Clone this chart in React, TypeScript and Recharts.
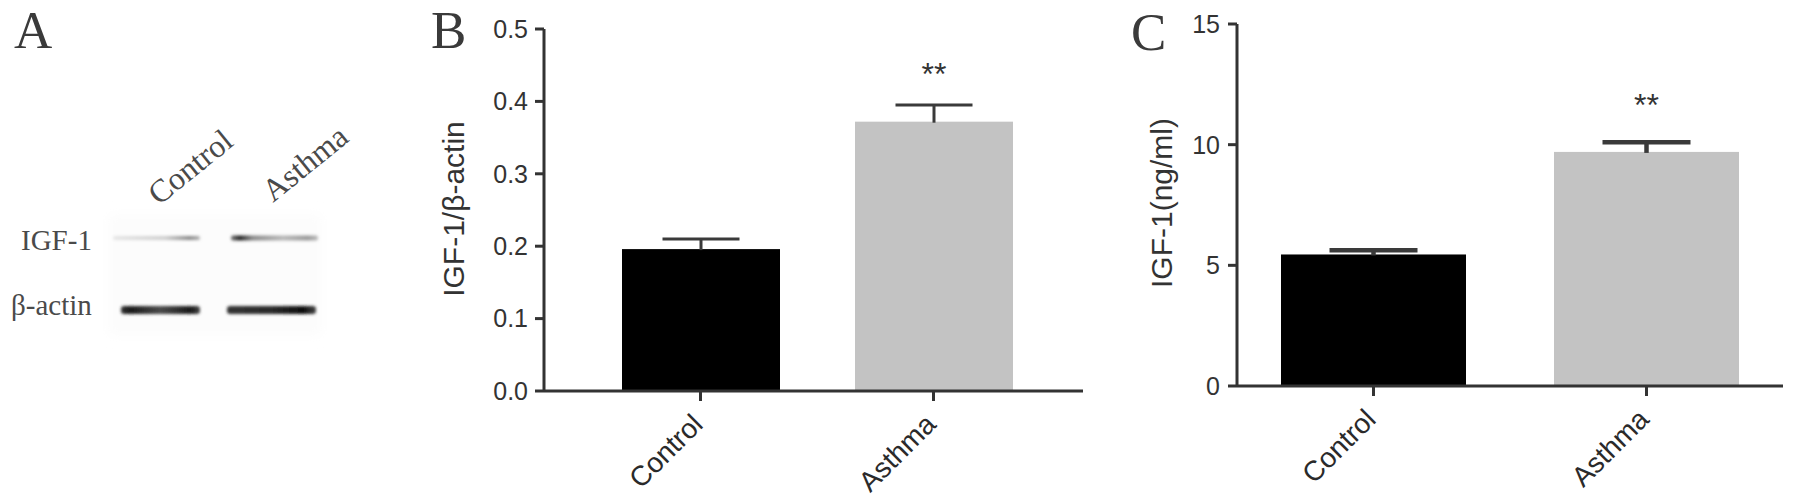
import React from "react";
import { BarChart, Bar, XAxis, YAxis } from "recharts";

// values (mean, upper SEM)
const groups = ["Control", "Asthma"];
const ratioMean = [0.196, 0.372];
const ratioSem = [0.014, 0.023];
const serumMean = [5.45, 9.7];
const serumSem = [0.17, 0.4];
const stars = ["", "**"];
const ratioTicks = [0, 0.1, 0.2, 0.3, 0.4, 0.5];
const serumTicks = [0, 5, 10, 15];
const blotRows = ["IGF-1", "β-actin"];

const barColors = ["#000000", "#c3c3c3"];
const ink = "#333333";
const whisker = "#3a3a3a";
const sans = "'Liberation Sans', Arial, sans-serif";
const serif = "'Liberation Serif', 'Times New Roman', serif";

const ratioData = groups.map((group, i) => ({
  group,
  mean: ratioMean[i],
  sem: ratioSem[i],
  star: stars[i],
}));
const serumData = groups.map((group, i) => ({
  group,
  mean: serumMean[i],
  sem: serumSem[i],
  star: stars[i],
}));

// bar + upper error whisker + significance mark, whisker length taken from the bar's own px/unit
function makeShape(cap: number, sw: number, starGap: number) {
  return (props: any) => {
    const { x, y, width, height, payload } = props;
    const perUnit = payload.mean ? height / payload.mean : 0;
    const top = y - payload.sem * perUnit;
    const cx = x + width / 2;
    const color = barColors[groups.indexOf(payload.group)] ?? "#000";
    return (
      <g>
        <rect x={x} y={y} width={width} height={height} fill={color} />
        <line x1={cx} x2={cx} y1={y + 1} y2={top} stroke={whisker} strokeWidth={sw} />
        <line x1={cx - cap} x2={cx + cap} y1={top} y2={top} stroke={whisker} strokeWidth={sw} />
        {payload.star ? (
          <text
            x={cx}
            y={top - starGap}
            textAnchor="middle"
            fontSize={32}
            fontFamily={sans}
            fill={ink}
          >
            {payload.star}
          </text>
        ) : null}
      </g>
    );
  };
}

const xTick = (props: any) => {
  const { x, y, payload } = props;
  const px = x + 4;
  const py = y + 25;
  return (
    <text
      x={px}
      y={py}
      transform={`rotate(-45 ${px} ${py})`}
      textAnchor="end"
      fontSize={28}
      fontFamily={sans}
      fill="#2a2a2a"
    >
      {payload.value}
    </text>
  );
};

const yTitle = (text: string, x: number, y: number) => () =>
  (
    <text
      x={x}
      y={y}
      transform={`rotate(-90 ${x} ${y})`}
      textAnchor="middle"
      dominantBaseline="central"
      fontSize={30}
      fontFamily={sans}
      fill={ink}
    >
      {text}
    </text>
  );

function BlotPanel() {
  const laneX = [[113, 200], [231, 318]];
  const rowY = [238, 310];
  return (
    <svg
      width={1795}
      height={503}
      style={{ position: "absolute", left: 0, top: 0 }}
    >
      <defs>
        <filter id="soft" x="-20%" y="-200%" width="140%" height="500%">
          <feGaussianBlur stdDeviation="1.8" />
        </filter>
        <filter id="haze" x="-10%" y="-10%" width="120%" height="120%">
          <feGaussianBlur stdDeviation="6" />
        </filter>
        <linearGradient id="igfC" x1="0" x2="1" y1="0" y2="0">
          <stop offset="0" stopColor="#e6e6e6" />
          <stop offset="0.6" stopColor="#cfcfcf" />
          <stop offset="0.88" stopColor="#8a8a8a" />
          <stop offset="1" stopColor="#b0b0b0" />
        </linearGradient>
        <linearGradient id="igfA" x1="0" x2="1" y1="0" y2="0">
          <stop offset="0" stopColor="#777" />
          <stop offset="0.1" stopColor="#222" />
          <stop offset="0.25" stopColor="#8a8a8a" />
          <stop offset="0.6" stopColor="#b8b8b8" />
          <stop offset="0.88" stopColor="#999" />
          <stop offset="1" stopColor="#bbb" />
        </linearGradient>
        <linearGradient id="actC" x1="0" x2="1" y1="0" y2="0">
          <stop offset="0" stopColor="#333" />
          <stop offset="0.12" stopColor="#1a1a1a" />
          <stop offset="0.5" stopColor="#4a4a4a" />
          <stop offset="0.88" stopColor="#1a1a1a" />
          <stop offset="1" stopColor="#444" />
        </linearGradient>
        <linearGradient id="actA" x1="0" x2="1" y1="0" y2="0">
          <stop offset="0" stopColor="#333" />
          <stop offset="0.5" stopColor="#2a2a2a" />
          <stop offset="0.85" stopColor="#0d0d0d" />
          <stop offset="1" stopColor="#444" />
        </linearGradient>
      </defs>
      <rect x={0} y={0} width={1795} height={503} fill="#ffffff" />
      <text x={14} y={48} fontSize={53} fontFamily={serif} fill="#3a3a3a">A</text>
      <text x={431} y={48} fontSize={53} fontFamily={serif} fill="#3a3a3a">B</text>
      <text x={1131} y={50} fontSize={53} fontFamily={serif} fill="#3a3a3a">C</text>

      <rect x={108} y={214} width={214} height={122} fill="#fcfcfc" filter="url(#haze)" />

      {groups.map((g, i) => {
        const sx = [159, 273][i];
        const sy = [206, 203][i];
        return (
          <text
            key={g}
            x={sx}
            y={sy}
            transform={`rotate(-39 ${sx} ${sy})`}
            fontSize={32}
            fontFamily={serif}
            fill="#4a4a4a"
          >
            {g}
          </text>
        );
      })}
      {blotRows.map((r, i) => (
        <text
          key={r}
          x={[21, 11][i]}
          y={[250, 315][i]}
          fontSize={29}
          fontFamily={serif}
          fill="#4a4a4a"
        >
          {r}
        </text>
      ))}
      <rect x={laneX[0][0]} y={rowY[0] - 2} width={laneX[0][1] - laneX[0][0]} height={4} rx={2} fill="url(#igfC)" filter="url(#soft)" />
      <rect x={laneX[1][0]} y={rowY[0] - 2.5} width={laneX[1][1] - laneX[1][0]} height={5} rx={2} fill="url(#igfA)" filter="url(#soft)" />
      <rect x={laneX[0][0] + 8} y={rowY[1] - 4} width={laneX[0][1] - laneX[0][0] - 8} height={8} rx={3} fill="url(#actC)" filter="url(#soft)" />
      <rect x={laneX[1][0] - 4} y={rowY[1] - 4} width={laneX[1][1] - laneX[1][0] + 2} height={8} rx={3} fill="url(#actA)" filter="url(#soft)" />
    </svg>
  );
}

export default function App() {
  const axisStroke = { stroke: ink, strokeWidth: 3 };
  return (
    <div
      style={{
        position: "absolute",
        left: 0,
        top: 0,
        width: 1795,
        height: 503,
        background: "#fff",
        overflow: "hidden",
      }}
    >
      <BlotPanel />

      <div style={{ position: "absolute", left: 380, top: 0 }}>
        <BarChart
          width={720}
          height={503}
          data={ratioData}
          margin={{ top: 29, right: 17, left: 0, bottom: 0 }}
        >
          <XAxis
            dataKey="group"
            height={112}
            interval={0}
            padding={{ left: 40, right: 33 }}
            tickSize={10}
            tickMargin={0}
            axisLine={axisStroke}
            tickLine={axisStroke}
            tick={xTick}
          />
          <YAxis
            width={164}
            domain={[0, 0.5]}
            ticks={ratioTicks}
            tickFormatter={(v: number) => v.toFixed(1)}
            tickSize={9}
            tickMargin={7}
            axisLine={axisStroke}
            tickLine={axisStroke}
            tick={{ fill: ink, fontSize: 25, fontFamily: sans }}
            label={{ content: yTitle("IGF-1/β-actin", 73, 209) }}
          />
          <Bar
            dataKey="mean"
            barSize={158}
            isAnimationActive={false}
            shape={makeShape(38.5, 3, 20)}
          />
        </BarChart>
      </div>

      <div style={{ position: "absolute", left: 1100, top: 0 }}>
        <BarChart
          width={695}
          height={503}
          data={serumData}
          margin={{ top: 24, right: 12, left: 0, bottom: 0 }}
        >
          <XAxis
            dataKey="group"
            height={117}
            interval={0}
            tickSize={10}
            tickMargin={0}
            axisLine={axisStroke}
            tickLine={axisStroke}
            tick={xTick}
          />
          <YAxis
            width={137}
            domain={[0, 15]}
            ticks={serumTicks}
            tickSize={9}
            tickMargin={8}
            axisLine={axisStroke}
            tickLine={axisStroke}
            tick={{ fill: ink, fontSize: 25, fontFamily: sans }}
            label={{ content: yTitle("IGF-1(ng/ml)", 61, 203) }}
          />
          <Bar
            dataKey="mean"
            barSize={185}
            isAnimationActive={false}
            shape={makeShape(44, 4.5, 26)}
          />
        </BarChart>
      </div>
    </div>
  );
}
